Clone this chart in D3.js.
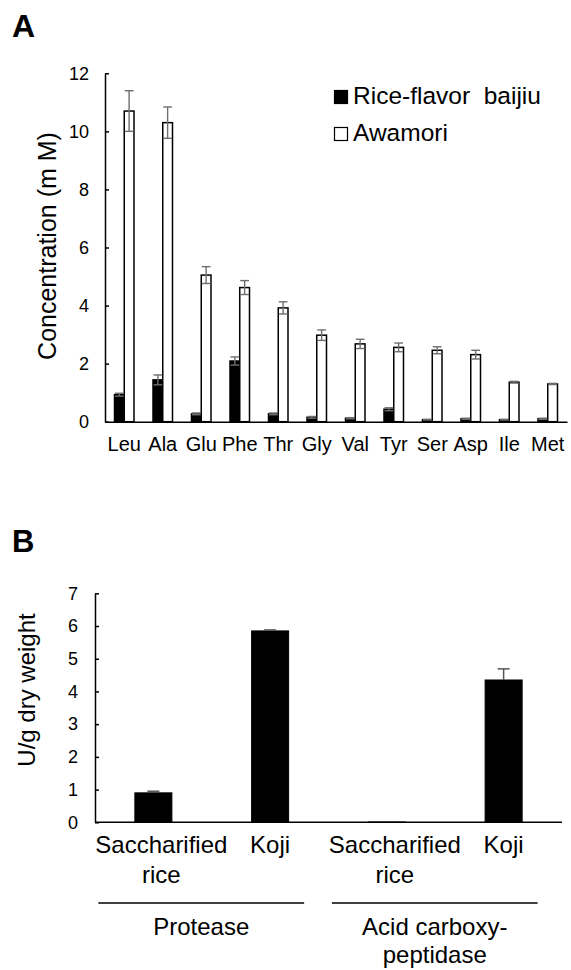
<!DOCTYPE html>
<html>
<head>
<meta charset="utf-8">
<script src="https://cdn.jsdelivr.net/npm/d3@7"></script>
<style>
  body { margin: 0; background: #fff; }
  svg { font-family: "Liberation Sans", Arial, sans-serif; }
</style>
</head>
<body>
<div id="chart"></div>
<script>
// Panel A data: amino acid concentrations (mM)
const aminoAcids = ["Leu", "Ala", "Glu", "Phe", "Thr", "Gly", "Val", "Tyr", "Ser", "Asp", "Ile", "Met"];
const baijiu     = [0.93, 1.44, 0.27, 2.09, 0.27, 0.15, 0.12, 0.43, 0.07, 0.10, 0.07, 0.10];
const baijiuErr  = [0.05, 0.17, 0.03, 0.14, 0.03, 0.03, 0.02, 0.05, 0.01, 0.02, 0.01, 0.02];
const awamori    = [10.70, 10.30, 5.05, 4.62, 3.92, 2.98, 2.68, 2.56, 2.46, 2.31, 1.36, 1.30];
const awamoriErr = [0.70, 0.54, 0.29, 0.24, 0.21, 0.18, 0.16, 0.15, 0.12, 0.15, 0.03, 0.02];
const seriesNames = ["Rice-flavor  baijiu", "Awamori"];
const yTicksA = [0, 2, 4, 6, 8, 10, 12];

// Panel B data: enzyme activity (U/g dry weight)
const sources   = [["Saccharified", "rice"], ["Koji"], ["Saccharified", "rice"], ["Koji"]];
const enzymes   = [["Protease"], ["Acid carboxy-", "peptidase"]];
const activity  = [0.90, 5.85, 0.01, 4.35];
const activityErr = [0.05, 0.03, 0.0, 0.34];
const yTicksB = [0, 1, 2, 3, 4, 5, 6, 7];

const FONT = "Liberation Sans, Arial, sans-serif";

const svg = d3.select("#chart")
  .append("svg")
  .attr("width", 571)
  .attr("height", 970);

// ---------- Panel A ----------
svg.append("text")
  .attr("x", 12).attr("y", 37)
  .attr("font-size", 32).attr("font-weight", "bold")
  .text("A");

const xA = d3.scaleBand()
  .domain(aminoAcids)
  .range([105, 567]);

const xSub = d3.scaleBand()
  .domain([0, 1])
  .range([0, xA.bandwidth()])
  .paddingOuter(0.975);

const yA = d3.scaleLinear()
  .domain([0, 12])
  .range([421.7, 73.3]);

const barsA = aminoAcids.map((d, i) => [
  { cat: d, s: 0, v: baijiu[i], e: baijiuErr[i] },
  { cat: d, s: 1, v: awamori[i], e: awamoriErr[i] }
]).flat();

const gA = svg.append("g");

gA.selectAll("rect.bar")
  .data(barsA)
  .join("rect")
  .attr("class", "bar")
  .attr("x", d => xA(d.cat) + xSub(d.s))
  .attr("y", d => yA(d.v))
  .attr("width", xSub.bandwidth())
  .attr("height", d => yA(0) - yA(d.v))
  .attr("fill", d => d.s === 0 ? "#000" : "#fff")
  .attr("stroke", "#000")
  .attr("stroke-width", 1.5);

// error bars
const errA = gA.selectAll("g.err")
  .data(barsA.filter(d => d.e > 0))
  .join("g")
  .attr("class", "err")
  .attr("stroke", "#6e6e6e")
  .attr("stroke-width", 1.4);
errA.append("line")
  .attr("x1", d => xA(d.cat) + xSub(d.s) + xSub.bandwidth() / 2)
  .attr("x2", d => xA(d.cat) + xSub(d.s) + xSub.bandwidth() / 2)
  .attr("y1", d => yA(d.v - d.e))
  .attr("y2", d => yA(d.v + d.e));
errA.append("line")
  .attr("x1", d => xA(d.cat) + xSub(d.s) + 0.5)
  .attr("x2", d => xA(d.cat) + xSub(d.s) + xSub.bandwidth() - 0.5)
  .attr("y1", d => yA(d.v + d.e))
  .attr("y2", d => yA(d.v + d.e));
errA.append("line")
  .attr("x1", d => xA(d.cat) + xSub(d.s) + 0.5)
  .attr("x2", d => xA(d.cat) + xSub(d.s) + xSub.bandwidth() - 0.5)
  .attr("y1", d => yA(d.v - d.e))
  .attr("y2", d => yA(d.v - d.e));

// y axis
const axisA = svg.append("g")
  .attr("transform", "translate(105,0)")
  .call(d3.axisLeft(yA).tickValues(yTicksA).tickSize(-4).tickSizeOuter(0).tickPadding(16));
axisA.select(".domain").attr("stroke-width", 1.5);
axisA.selectAll(".tick line").attr("stroke-width", 1.5);
axisA.selectAll(".tick text").attr("font-size", 18).attr("font-family", FONT).attr("fill", "#000");

// x axis baseline + labels
const axisXA = svg.append("g")
  .attr("transform", `translate(0,${yA(0)})`)
  .call(d3.axisBottom(xA).tickSize(0).tickSizeOuter(0).tickPadding(15));
axisXA.select(".domain").attr("stroke-width", 1.5);
axisXA.selectAll(".tick text").attr("font-size", 20).attr("font-family", FONT).attr("fill", "#000");

svg.append("text")
  .attr("transform", "translate(56,246) rotate(-90)")
  .attr("text-anchor", "middle")
  .attr("font-size", 25)
  .text("Concentration (m M)");

// legend
const legend = svg.append("g");
seriesNames.forEach((name, i) => {
  legend.append("rect")
    .attr("x", 334.5).attr("y", 90.5 + i * 37)
    .attr("width", 13).attr("height", 13)
    .attr("fill", i === 0 ? "#000" : "#fff")
    .attr("stroke", "#000").attr("stroke-width", 1.2);
  legend.append("text")
    .attr("x", 353).attr("y", 104 + i * 37)
    .attr("font-size", 24.5)
    .style("white-space", "pre")
    .text(name);
});

// ---------- Panel B ----------
svg.append("text")
  .attr("x", 12).attr("y", 552)
  .attr("font-size", 31).attr("font-weight", "bold")
  .text("B");

const xB = d3.scaleBand()
  .domain(d3.range(activity.length))
  .range([95, 562])
  .paddingInner(0.683)
  .paddingOuter(0.3415);

const yB = d3.scaleLinear()
  .domain([0, 7])
  .range([822.3, 593.3]);

const gB = svg.append("g");
gB.selectAll("rect")
  .data(activity)
  .join("rect")
  .attr("x", (d, i) => xB(i))
  .attr("y", d => yB(d))
  .attr("width", xB.bandwidth())
  .attr("height", d => yB(0) - yB(d))
  .attr("fill", "#000")
  .attr("stroke", "#000")
  .attr("stroke-width", 1);

const errB = gB.selectAll("g.err")
  .data(activity.map((v, i) => ({ i, v, e: activityErr[i] })).filter(d => d.e > 0))
  .join("g")
  .attr("class", "err")
  .attr("stroke", "#555")
  .attr("stroke-width", 1.5);
errB.append("line")
  .attr("x1", d => xB(d.i) + xB.bandwidth() / 2)
  .attr("x2", d => xB(d.i) + xB.bandwidth() / 2)
  .attr("y1", d => yB(d.v))
  .attr("y2", d => yB(d.v + d.e));
errB.append("line")
  .attr("x1", d => xB(d.i) + xB.bandwidth() / 2 - 6)
  .attr("x2", d => xB(d.i) + xB.bandwidth() / 2 + 6)
  .attr("y1", d => yB(d.v + d.e))
  .attr("y2", d => yB(d.v + d.e));

const axisB = svg.append("g")
  .attr("transform", "translate(95,0)")
  .call(d3.axisLeft(yB).tickValues(yTicksB).tickFormat(d3.format("d"))
    .tickSize(-4).tickSizeOuter(0).tickPadding(17));
axisB.select(".domain").attr("stroke-width", 1.5);
axisB.selectAll(".tick line").attr("stroke-width", 1.5);
axisB.selectAll(".tick text").attr("font-size", 18).attr("font-family", FONT).attr("fill", "#000");

svg.append("line")
  .attr("x1", 95).attr("x2", 562)
  .attr("y1", yB(0)).attr("y2", yB(0))
  .attr("stroke", "#000").attr("stroke-width", 1.5);

svg.append("text")
  .attr("transform", "translate(35,690) rotate(-90)")
  .attr("text-anchor", "middle")
  .attr("font-size", 24)
  .text("U/g dry weight");

// category labels (multi-line)
const catLabels = svg.selectAll("text.cat")
  .data(sources)
  .join("text")
  .attr("class", "cat")
  .attr("text-anchor", "middle")
  .attr("font-size", 24)
  .attr("x", (d, i) => xB(i) + xB.bandwidth() / 2 + (d.length > 1 ? 8 : 0))
  .attr("y", 853);
catLabels.selectAll("tspan")
  .data(d => d)
  .join("tspan")
  .attr("x", function() { return this.parentNode.getAttribute("x"); })
  .attr("dy", (d, j) => j === 0 ? 0 : 30)
  .text(d => d);

// enzyme group lines and labels
enzymes.forEach((lines, g) => {
  const x1 = xB(2 * g) + xB.bandwidth() / 2 - 55;
  const x2 = xB(2 * g + 1) + xB.bandwidth() / 2 + 34;
  svg.append("line")
    .attr("x1", x1).attr("x2", x2)
    .attr("y1", 903).attr("y2", 903)
    .attr("stroke", "#000").attr("stroke-width", 1.5);
  const t = svg.append("text")
    .attr("text-anchor", "middle")
    .attr("font-size", 24)
    .attr("y", 935);
  lines.forEach((s, j) => {
    t.append("tspan")
      .attr("x", (x1 + x2) / 2)
      .attr("dy", j === 0 ? 0 : 28)
      .text(s);
  });
});
</script>
</body>
</html>
